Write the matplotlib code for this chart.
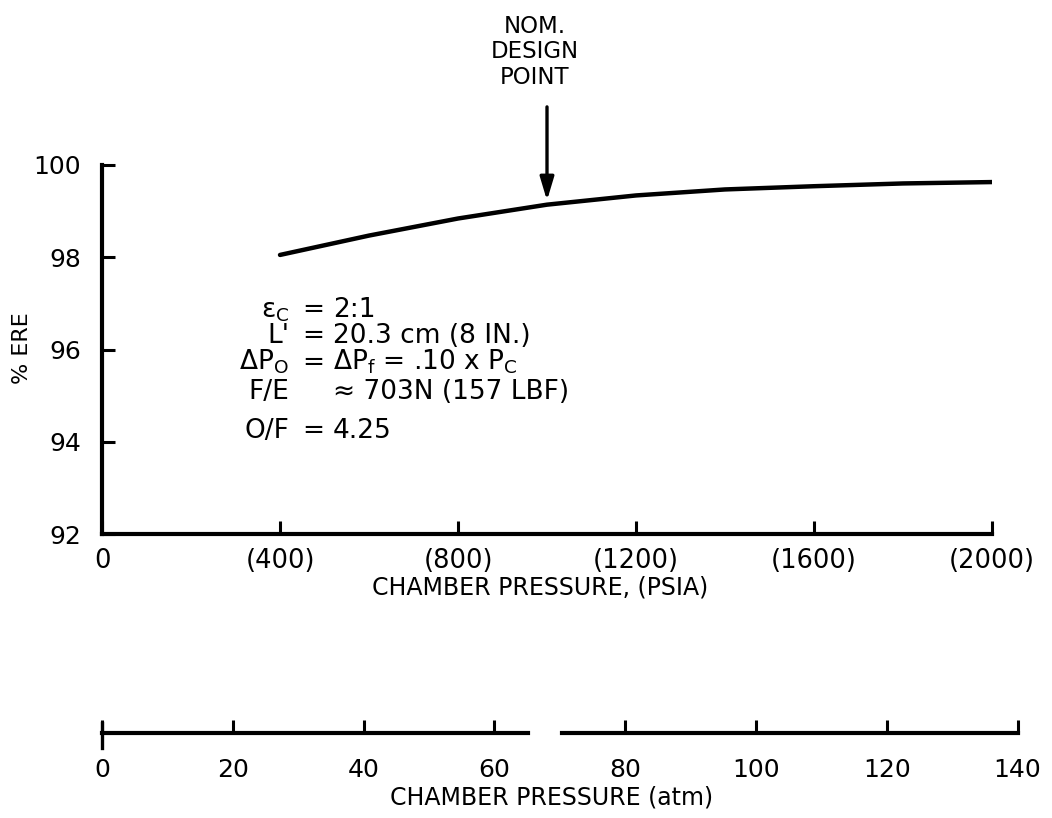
import numpy as np
import matplotlib
matplotlib.use('Agg')
import matplotlib.pyplot as plt

# engine performance vs chamber pressure
psia = [400, 600, 800, 1000, 1200, 1400, 1600, 1800, 2000]
ere = [98.05, 98.47, 98.84, 99.14, 99.34, 99.47, 99.54, 99.60, 99.63]

design_psia = 1000
design_ere = 99.14

psia_ticks = [0, 400, 800, 1200, 1600, 2000]
psia_labels = ['0', '(400)', '(800)', '(1200)', '(1600)', '(2000)']
ere_ticks = [92, 94, 96, 98, 100]
atm_ticks = [0, 20, 40, 60, 80, 100, 120, 140]
atm_break = (65.1, 70.3)   # gap in the lower scale line
psi_per_atm = 14.696

# test conditions
cond_left = ['ε$_\\mathrm{C}$', "L'", 'ΔP$_\\mathrm{O}$', 'F/E', 'O/F']
cond_mid = ['=', '=', '=', '', '=']
cond_right = ['2:1', '20.3 cm (8 IN.)', 'ΔP$_\\mathrm{f}$ = .10 x P$_\\mathrm{C}$',
              '≈ 703N (157 LBF)', '4.25']

W, H = 1052, 818
plt.rcParams['font.family'] = 'DejaVu Sans'

fig = plt.figure(figsize=(W/100, H/100), dpi=100, facecolor='white')

def px(x, y):
    return x/W, 1 - y/H

# main plot, psia scale
ax_l, ax_r, ax_t, ax_b = 102, 992, 165, 534
ax = fig.add_axes([ax_l/W, 1 - ax_b/H, (ax_r - ax_l)/W, (ax_b - ax_t)/H])
ax.plot(psia, ere, color='k', lw=3.2, solid_capstyle='round')
ax.set_xlim(0, 2000)
ax.set_ylim(92, 100)
for s in ['top', 'right']:
    ax.spines[s].set_visible(False)
for s in ['left', 'bottom']:
    ax.spines[s].set_linewidth(3)
ax.set_xticks(psia_ticks)
ax.set_xticklabels(psia_labels)
ax.set_yticks(ere_ticks)
ax.set_yticklabels([str(t) for t in ere_ticks])
ax.tick_params(axis='both', direction='in', length=9.5, width=2.2, colors='k')
ax.tick_params(axis='x', labelsize=18.5, pad=10)
ax.tick_params(axis='y', labelsize=18, pad=15)

# arrow to the design point
ax.annotate('', xy=(design_psia, design_ere), xytext=(design_psia, 101.26),
            arrowprops=dict(arrowstyle='-|>,head_length=0.5,head_width=0.15',
                            lw=2.4, color='k', mutation_scale=28,
                            shrinkA=0, shrinkB=3),
            annotation_clip=False)
fig.text(*px(535, 52), 'NOM.\nDESIGN\nPOINT', ha='center', va='center',
         fontsize=16.5, linespacing=1.12)

fig.text(*px(22, 348), '% ERE', rotation=90, ha='center', va='center', fontsize=16)
fig.text(*px(540, 588), 'CHAMBER PRESSURE, (PSIA)', ha='center', va='center',
         fontsize=17)

# condition block
rows_y = [308, 334, 361, 390, 429]
for yy, a, b, c in zip(rows_y, cond_left, cond_mid, cond_right):
    fig.text(*px(289, yy + 9), a, ha='right', va='baseline', fontsize=19)
    fig.text(*px(313, yy + 9), b, ha='center', va='baseline', fontsize=19)
    fig.text(*px(333, yy + 9), c, ha='left', va='baseline', fontsize=19)

# lower scale in atm, same px per unit pressure as the psia axis
atm_y = 733
atm_w = (ax_r - ax_l) * 140 * psi_per_atm / 2000
ax2 = fig.add_axes([ax_l/W, 1 - atm_y/H, atm_w/W, 30/H])
ax2.set_xlim(0, 140)
ax2.set_ylim(0, 1)
for s in ax2.spines.values():
    s.set_visible(False)
ax2.patch.set_alpha(0)
ax2.plot([0, atm_break[0]], [0, 0], color='k', lw=3, clip_on=False)
ax2.plot([atm_break[1], 140], [0, 0], color='k', lw=3, clip_on=False)
ax2.plot([0, 0], [-0.5, 0.33], color='k', lw=2.4, clip_on=False)
ax2.set_yticks([])
ax2.set_xticks(atm_ticks)
ax2.set_xticklabels([str(t) for t in atm_ticks])
ax2.tick_params(axis='x', direction='in', length=9.5, width=2.2, labelsize=18, pad=18)
fig.text(*px(552, 797), 'CHAMBER PRESSURE (atm)', ha='center', va='center',
         fontsize=17)

fig.savefig('out.png', dpi=100, facecolor='white')
